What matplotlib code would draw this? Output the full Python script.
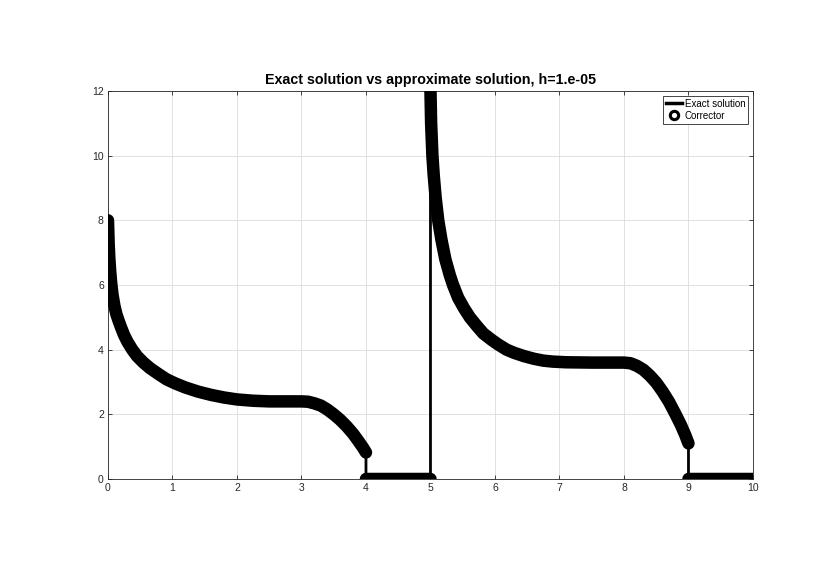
import numpy as np
import matplotlib.pyplot as plt
from matplotlib.lines import Line2D

plt.rcParams['font.family'] = ['Liberation Sans', 'DejaVu Sans']

# values
x_exact = [0.0, 0.01, 0.02, 0.035, 0.05, 0.07, 0.1, 0.13, 0.16, 0.2, 0.25, 0.3, 0.37, 0.45,
           0.55, 0.65, 0.78, 0.91, 1.05, 1.2, 1.4, 1.6, 1.8, 2.0, 2.25, 2.5, 3.0,
           3.1, 3.2, 3.3, 3.4, 3.5, 3.6, 3.7, 3.8, 3.88, 3.95, 4.0,
           4.0, 5.0,
           5.0, 5.005, 5.01, 5.02, 5.03, 5.05, 5.08, 5.12, 5.17, 5.23, 5.3, 5.35, 5.43,
           5.52, 5.61, 5.72, 5.82, 5.95, 6.05, 6.18, 6.3, 6.45, 6.6, 6.75, 6.9, 7.1, 7.5,
           8.0, 8.1, 8.2, 8.3, 8.4, 8.5, 8.6, 8.7, 8.8, 8.88, 8.95, 9.0,
           9.0, 10.0]
y_exact = [8.0, 7.3, 6.85, 6.4, 6.05, 5.7, 5.35, 5.1, 4.92, 4.7, 4.45, 4.25, 4.02, 3.8,
           3.6, 3.43, 3.25, 3.08, 2.95, 2.83, 2.7, 2.6, 2.52, 2.46, 2.42, 2.4, 2.4,
           2.39, 2.34, 2.27, 2.15, 2.0, 1.83, 1.63, 1.4, 1.18, 0.98, 0.82,
           0.0, 0.0,
           12.0, 11.5, 11.0, 10.5, 10.0, 9.4, 8.7, 8.0, 7.4, 6.8, 6.3, 6.0, 5.6,
           5.28, 5.0, 4.73, 4.5, 4.3, 4.16, 4.0, 3.9, 3.8, 3.72, 3.66, 3.63, 3.61, 3.6,
           3.6, 3.58, 3.5, 3.38, 3.2, 2.98, 2.7, 2.38, 2.0, 1.68, 1.36, 1.1,
           0.0, 0.0]

# corrector follows the same curve but has no vertical jumps
xc, yc = [], []
for i in range(len(x_exact)):
    if i > 0 and x_exact[i] == x_exact[i - 1]:
        xc.append(np.nan)
        yc.append(np.nan)
    xc.append(x_exact[i])
    yc.append(y_exact[i])

fig = plt.figure(figsize=(8.3, 5.87), dpi=100)
ax = fig.add_axes([0.1301, 0.1840, 0.7771, 0.6610])

ax.plot(x_exact, y_exact, color='black', linewidth=2, zorder=3)
ax.plot(xc, yc, color='black', linewidth=9, solid_capstyle='round',
        solid_joinstyle='round', zorder=4)

ax.set_xlim(0, 10)
ax.set_ylim(0, 12)
ax.set_xticks(range(0, 11))
ax.set_yticks(range(0, 13, 2))
ax.grid(True, color='#dcdcdc', linewidth=0.6)
ax.set_axisbelow(True)
ax.tick_params(direction='in', length=3, width=0.6, labelsize=7.5,
               colors='#262626', top=True, right=True, pad=3)
for s in ax.spines.values():
    s.set_color('#262626')
    s.set_linewidth(0.6)

ax.set_title('Exact solution vs approximate solution, h=1.e-05',
             fontsize=10.3, fontweight='bold', pad=5)

handles = [Line2D([], [], color='black', linewidth=2.5),
           Line2D([], [], color='black', linestyle='none', marker='o',
                  markersize=6, markerfacecolor='white', markeredgewidth=2.2)]
leg = ax.legend(handles, ['Exact solution', 'Corrector'], loc='upper right',
                fontsize=7, fancybox=False, framealpha=1, edgecolor='#262626',
                handlelength=1.6, handletextpad=0.3, borderpad=0.3,
                labelspacing=0.2, borderaxespad=0.5)
leg.get_frame().set_linewidth(0.6)

fig.savefig('out.png', dpi=100)
